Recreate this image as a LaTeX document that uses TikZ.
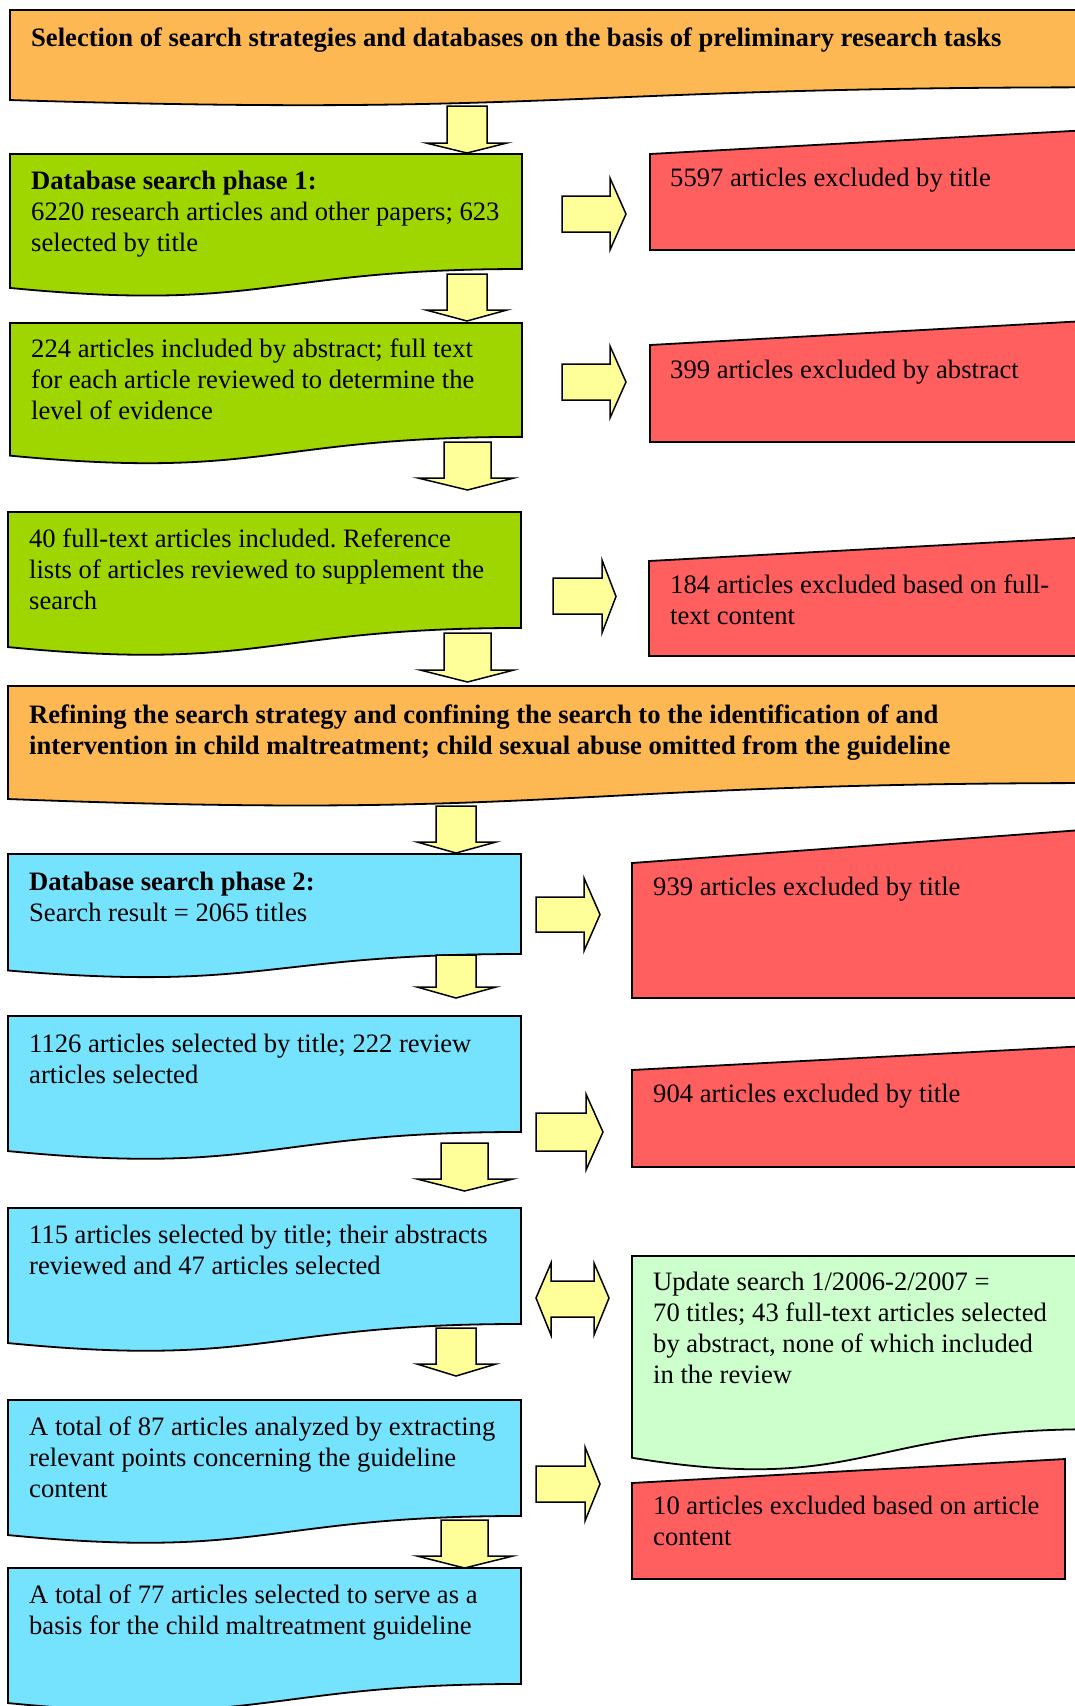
\documentclass[tikz,border=0pt]{standalone}
\usepackage{fontspec}
\setmainfont{Liberation Serif}
\frenchspacing
\definecolor{boxorange}{HTML}{FDB853}
\definecolor{boxgreen}{HTML}{A0D600}
\definecolor{boxblue}{HTML}{75E3FE}
\definecolor{boxred}{HTML}{FF5F5F}
\definecolor{boxlight}{HTML}{CCFFCC}
\definecolor{arrowyellow}{HTML}{FFFF99}
% document shape: fill, x0, y0, w, h
\newcommand\docbox[5]{\draw[shapeline, fill=#1] (#2,#3) -- ({#2+#4},#3) -- ({#2+#4},{#3+0.802*#5})
  .. controls ({#2+0.5*#4},{#3+0.802*#5}) and ({#2+0.5*#4},{#3+1.1075*#5}) .. (#2,{#3+0.934*#5}) -- cycle;}
% manual input shape: fill, x0, y0 (top right), w, h
\newcommand\inbox[5]{\draw[shapeline, fill=#1] (#2,{#3+0.2*#5}) -- ({#2+#4},#3) -- ({#2+#4},{#3+#5}) -- (#2,{#3+#5}) -- cycle;}
% down block arrow: shaft x1, x2, ytop, yhead, wing left, wing right, ytip
\newcommand\downblk[7]{\draw[yarrow] (#1,#3) -- (#2,#3) -- (#2,#4) -- (#6,#4) -- ({(#1+#2)/2},#7) -- (#5,#4) -- (#1,#4) -- cycle;}
% right block arrow: xleft, xhead, xtip, shaft ytop, shaft ybot, head ytop, head ybot
\newcommand\rightblk[7]{\draw[yarrow] (#1,#4) -- (#2,#4) -- (#2,#6) -- (#3,{(#6+#7)/2}) -- (#2,#7) -- (#2,#5) -- (#1,#5) -- cycle;}
\newcommand\btext[1]{\parbox[t]{1040pt}{\raggedright\frenchspacing #1}}
\tikzset{
  shapeline/.style={draw=black, line width=1.8pt, line join=miter},
  yarrow/.style={draw=black, line width=1.5pt, line join=miter, fill=arrowyellow},
  txt/.style={anchor=base west, inner sep=0pt, font=\fontsize{26.6}{31}\selectfont}
}
\begin{document}
\begin{tikzpicture}[x=1pt, y=-1pt]
\useasboundingbox (0,0) rectangle (1075,1706);
\clip (0,0) rectangle (1075,1706);
\fill[white] (0,0) rectangle (1075,1706);
% boxes
\docbox{boxorange}{10}{10}{1090}{96.4}
\docbox{boxgreen}{10}{154}{512}{143.4}
\docbox{boxgreen}{10}{323}{512}{142}
\docbox{boxgreen}{8}{512}{513}{144.6}
\docbox{boxorange}{8}{686}{1090}{121}
\docbox{boxblue}{8}{854}{513}{124.7}
\docbox{boxblue}{8}{1016}{513}{144.6}
\docbox{boxblue}{8}{1208}{513}{144.6}
\docbox{boxblue}{8}{1400}{513}{144.6}
\docbox{boxblue}{8}{1568}{513}{144.6}
\docbox{boxlight}{632}{1256}{460}{216}
\inbox{boxred}{650}{130}{440}{120}
\inbox{boxred}{650}{320.75}{440}{121.25}
\inbox{boxred}{649}{537.25}{440}{118.75}
\inbox{boxred}{632}{829.25}{460}{168.75}
\inbox{boxred}{632}{1045.75}{460}{121.25}
\inbox{boxred}{632}{1459}{433}{120}
% down arrows
\downblk{447}{487}{106}{143}{426}{507}{153}
\downblk{447}{487}{274}{310}{426}{507}{321}
\downblk{444}{491}{442}{478}{418}{514}{490}
\downblk{444}{491}{633}{670}{420}{514}{682}
\downblk{436}{476}{806}{842}{417}{496}{853}
\downblk{436}{476}{955}{987}{417}{496}{998}
\downblk{441}{488}{1143}{1179}{417}{513}{1191}
\downblk{436}{476}{1328}{1364}{417}{496}{1376}
\downblk{441}{488}{1520}{1556}{417}{513}{1568}
% right arrows
\rightblk{562}{610}{626}{196}{232}{178}{250}
\rightblk{562}{610}{626}{364}{400}{346}{418}
\rightblk{553}{602}{616}{578}{614}{560}{633}
\rightblk{536}{584}{600}{897}{932}{878}{951}
\rightblk{536}{586}{603}{1113}{1151}{1094}{1170}
\rightblk{536}{585}{600}{1466}{1502}{1447}{1521}
% double arrow
\draw[yarrow] (536,1298) -- (551,1263) -- (551,1281) -- (594,1281) -- (594,1263) -- (609,1298)
  -- (594,1335) -- (594,1317) -- (551,1317) -- (551,1335) -- cycle;
% texts
\node[txt] (o1) at (31,46) {\btext{\bfseries Selection of search strategies and databases on the basis of preliminary research tasks}};
\node[txt] (g1) at (31,189) {\btext{\textbf{Database search phase 1:}\\6220 research articles and other papers; 623\\selected by title}};
\node[txt] (r1) at (670,186) {\btext{5597 articles excluded by title}};
\node[txt] (g2) at (31,357) {\btext{224 articles included by abstract; full text\\for each article reviewed to determine the\\level of evidence}};
\node[txt] (r2) at (670,378) {\btext{399 articles excluded by abstract}};
\node[txt] (g3) at (29,547) {\btext{40 full-text articles included. Reference\\lists of articles reviewed to supplement the\\search}};
\node[txt] (r3) at (670,593) {\btext{184 articles excluded based on full-\\text content}};
\node[txt] (o2) at (29,723) {\btext{\bfseries Refining the search strategy and confining the search to the identification of and\\intervention in child maltreatment; child sexual abuse omitted from the guideline}};
\node[txt] (b1) at (29,890) {\btext{\textbf{Database search phase 2:}\\Search result = 2065 titles}};
\node[txt] (r4) at (653,895) {\btext{939 articles excluded by title}};
\node[txt] (b2) at (29,1052) {\btext{1126 articles selected by title; 222 review\\articles selected}};
\node[txt] (r5) at (653,1102) {\btext{904 articles excluded by title}};
\node[txt] (b3) at (29,1243) {\btext{115 articles selected by title; their abstracts\\reviewed and 47 articles selected}};
\node[txt] (lg) at (653,1290) {\btext{Update search 1/2006-2/2007 =\\70 titles; 43 full-text articles selected\\by abstract, none of which included\\in the review}};
\node[txt] (b4) at (29,1435) {\btext{A total of 87 articles analyzed by extracting\\relevant points concerning the guideline\\content}};
\node[txt] (r6) at (653,1514) {\btext{10 articles excluded based on article\\content}};
\node[txt] (b5) at (29,1603) {\btext{A total of 77 articles selected to serve as a\\basis for the child maltreatment guideline}};
\end{tikzpicture}
\end{document}
